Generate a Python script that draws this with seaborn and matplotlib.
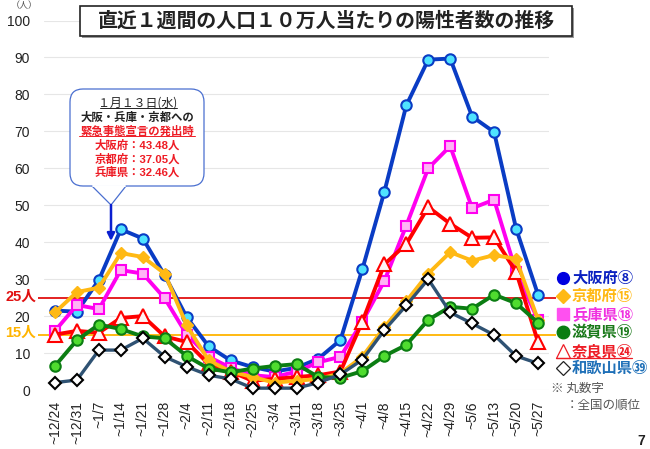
import matplotlib
matplotlib.use('Agg')
import matplotlib.pyplot as plt
from matplotlib.patches import Rectangle, FancyBboxPatch, Polygon
import seaborn as sns

# Data
weeks = ['~12/24', '~12/31', '~1/7', '~1/14', '~1/21', '~1/28', '~2/4', '~2/11', '~2/18', '~2/25', '~3/4', '~3/11',
         '~3/18', '~3/25', '~4/1', '~4/8', '~4/15', '~4/22', '~4/29', '~5/6', '~5/13', '~5/20', '~5/27']
osaka = [21.5, 21.2, 29.8, 43.48, 41.0, 31.0, 19.7, 11.8, 8.0, 6.2, 5.0, 6.0, 8.5, 13.5, 32.7, 53.6, 77.0, 89.4, 89.7, 74.0, 69.8, 43.7, 25.8]
kyoto = [21.0, 26.5, 27.7, 37.05, 36.0, 31.5, 17.5, 8.0, 5.0, 3.5, 2.0, 2.5, 3.0, 4.5, 9.0, 17.0, 24.0, 31.5, 37.3, 35.0, 36.5, 35.5, 19.0]
hyogo = [16.0, 23.0, 21.9, 32.46, 31.5, 24.8, 15.0, 9.0, 6.0, 4.0, 3.5, 5.0, 7.5, 9.0, 18.5, 29.5, 44.5, 60.0, 66.0, 49.2, 51.5, 32.0, 19.0]
nara = [15.0, 16.0, 15.5, 19.5, 20.0, 14.5, 13.0, 7.0, 5.0, 2.5, 3.0, 3.5, 4.0, 5.0, 18.5, 34.0, 39.5, 49.5, 45.0, 41.2, 41.3, 32.0, 13.0]
shiga = [6.5, 13.5, 17.7, 16.5, 14.5, 14.0, 9.2, 5.8, 4.8, 5.8, 6.5, 7.0, 3.5, 3.3, 5.1, 9.2, 12.2, 19.0, 22.5, 22.0, 25.8, 23.5, 18.2]
wakayama = [2.0, 2.7, 10.8, 10.8, 14.0, 9.0, 6.3, 4.0, 3.0, 0.5, 0.5, 0.5, 2.0, 4.2, 8.2, 16.2, 22.9, 30.0, 21.0, 18.0, 14.9, 9.2, 7.2]
y_ticks = [0, 10, 20, 30, 40, 50, 60, 70, 80, 90, 100]
red_level = 25
yellow_level = 15

sns.set_theme(style='white')
plt.rcParams['font.family'] = ['Liberation Sans', 'Noto Sans CJK JP', 'DejaVu Sans']
JP = ['Noto Sans CJK JP', 'DejaVu Sans']

fig = plt.figure(figsize=(6.5, 4.49), dpi=100)
ax = fig.add_axes([44 / 650, 59 / 449, 505 / 650, 369.5 / 449])

# Thresholds, behind the series
ax.hlines(red_level, -0.77, 22.8, color='#e01010', lw=1.3, clip_on=False, zorder=1.5)
ax.hlines(yellow_level, -0.77, 22.8, color='#ffb400', lw=1.3, clip_on=False, zorder=1.5)

# Series, in stacking order
sns.lineplot(x=weeks, y=osaka, ax=ax, sort=False, estimator=None, color='#0a3cc4', lw=2.8, marker='o', ms=7.5,
             mfc='#4fe3ff', mec='#0a3cc4', mew=1.5, zorder=3, clip_on=False)
sns.lineplot(x=weeks, y=hyogo, ax=ax, sort=False, estimator=None, color='#ff00f0', lw=2.8, marker='s', ms=7,
             mfc='#ffb4f5', mec='#ff00f0', mew=1.5, zorder=3.1, clip_on=False)
sns.lineplot(x=weeks, y=nara, ax=ax, sort=False, estimator=None, color='#ff0000', lw=2.8, marker='^', ms=9.5,
             mfc='#fff4f4', mec='#ff0000', mew=1.5, zorder=3.2, clip_on=False)
sns.lineplot(x=weeks, y=kyoto, ax=ax, sort=False, estimator=None, color='#ffb914', lw=2.8, marker='D', ms=6,
             mfc='#ffb914', mec='#ffb914', mew=1, zorder=3.3, clip_on=False)
sns.lineplot(x=weeks, y=shiga, ax=ax, sort=False, estimator=None, color='#0b7d12', lw=2.8, marker='o', ms=7.5,
             mfc='#4fdc2f', mec='#0b7d12', mew=1.5, zorder=3.4, clip_on=False)
sns.lineplot(x=weeks, y=wakayama, ax=ax, sort=False, estimator=None, color='#2f5273', lw=2.4, marker='D', ms=6.4,
             mfc='white', mec='black', mew=1.5, zorder=3.5, clip_on=False)

ax.set_xlim(-0.5, 22.5)
ax.set_ylim(0, 100)
ax.set_yticks(y_ticks)
ax.set_xlabel('')
ax.set_ylabel('')
ax.grid(axis='y', color='#e6e6e6', lw=0.8)
ax.grid(axis='x', visible=False)
ax.set_axisbelow(True)
sns.despine(ax=ax, left=True, bottom=True)
ax.tick_params(axis='y', length=0, labelsize=10, pad=10, labelcolor='#222222')
ax.tick_params(axis='x', length=0, labelsize=10, pad=8, rotation=90, labelcolor='#222222')

# Overlay in pixel coordinates for the slide furniture
ov = fig.add_axes([0, 0, 1, 1], zorder=5)
ov.set_xlim(0, 650)
ov.set_ylim(449, 0)
ov.axis('off')
ov.patch.set_alpha(0)

# Title box
ov.add_patch(Rectangle((82, 8), 492, 30, fc='#9a9a9a', ec='none'))
ov.add_patch(Rectangle((80, 6), 492, 30, fc='white', ec='#222222', lw=1.2))
ov.text(326, 20.5, '直近１週間の人口１０万人当たりの陽性者数の推移', family=JP, fontsize=14.3, fontweight='bold',
        color='#222222', ha='center', va='center')

# Callout
ov.add_patch(FancyBboxPatch((70, 89), 134, 97, boxstyle='round,pad=0,rounding_size=13', fc='white', ec='#4a6fd0', lw=0.9))
ov.add_patch(Polygon([(92, 186), (111, 205), (126, 186)], closed=False, fc='white', ec='#4a6fd0', lw=0.9, zorder=3))
ov.plot([93, 125], [186, 186], color='white', lw=1.4, zorder=4)
ov.annotate('', xy=(111, 241), xytext=(111, 205),
            arrowprops=dict(arrowstyle='-|>', color='#0a1fd0', lw=1.8, mutation_scale=11, shrinkA=0, shrinkB=0))
ov.text(138, 103, '１月１３日(水)', family=JP, fontsize=8.6, color='#222222', ha='center', va='center')
ov.plot([100, 177], [108, 108], color='#222222', lw=0.7)
ov.text(137, 117, '大阪・兵庫・京都への', family=JP, fontsize=8.2, fontweight='bold', color='#222222', ha='center', va='center')
ov.text(137, 131, '緊急事態宣言の発出時', family=JP, fontsize=8.2, fontweight='bold', color='#ee1c25', ha='center', va='center')
ov.plot([79, 195], [136, 136], color='#ee1c25', lw=0.7)
ov.text(137, 145, '大阪府：43.48人', fontsize=8.2, fontweight='bold', color='#ee1c25', ha='center', va='center')
ov.text(137, 159, '京都府：37.05人', fontsize=8.2, fontweight='bold', color='#ee1c25', ha='center', va='center')
ov.text(137, 172, '兵庫県：32.46人', fontsize=8.2, fontweight='bold', color='#ee1c25', ha='center', va='center')

# Threshold labels and unit
ov.text(21, 297, '25人', fontsize=10.5, fontweight='bold', color='#e01010', ha='center', va='center')
ov.text(21, 333, '15人', fontsize=10.5, fontweight='bold', color='#ffb400', ha='center', va='center')
ov.text(24, 6, '（人）', family=JP, fontsize=6.5, color='#555555', ha='center', va='center')

# Legend
legend_rows = [('大阪府⑧', '#0a20c0', 278), ('京都府⑮', '#ffb914', 296), ('兵庫県⑱', '#f030e0', 314),
               ('滋賀県⑲', '#1b7a1b', 332), ('奈良県㉔', '#ee1c25', 351), ('和歌山県㊴', '#1f70b8', 368)]
for label, colour, y in legend_rows:
    ov.text(572, y, label, family=JP, fontsize=11, fontweight='bold', color=colour, ha='left', va='center')
ov.plot(563, 278, 'o', ms=8.5, mfc='#0000e0', mec='#0000e0')
ov.plot(563, 296, 'D', ms=7, mfc='#ffb914', mec='#ffb914')
ov.plot(563, 314, 's', ms=8, mfc='#ff50f0', mec='#ff50f0')
ov.plot(563, 332, 'o', ms=9, mfc='#0b7d12', mec='#0b7d12')
ov.plot(563, 351, '^', ms=10, mfc='white', mec='#ee1c25', mew=0.9)
ov.plot(563, 368, 'D', ms=7, mfc='white', mec='#222222', mew=0.9)
ov.plot([556, 632], [358, 358], color='#ee1c25', lw=0.9)

# Note and page number
ov.text(551, 388, '※ 丸数字', family=JP, fontsize=9, color='#555555', ha='left', va='center')
ov.text(566, 405, '：全国の順位', family=JP, fontsize=9, color='#555555', ha='left', va='center')
ov.text(641, 441, '7', fontsize=10, fontweight='bold', color='#222222', ha='center', va='center')

fig.savefig('out.png', dpi=100)
